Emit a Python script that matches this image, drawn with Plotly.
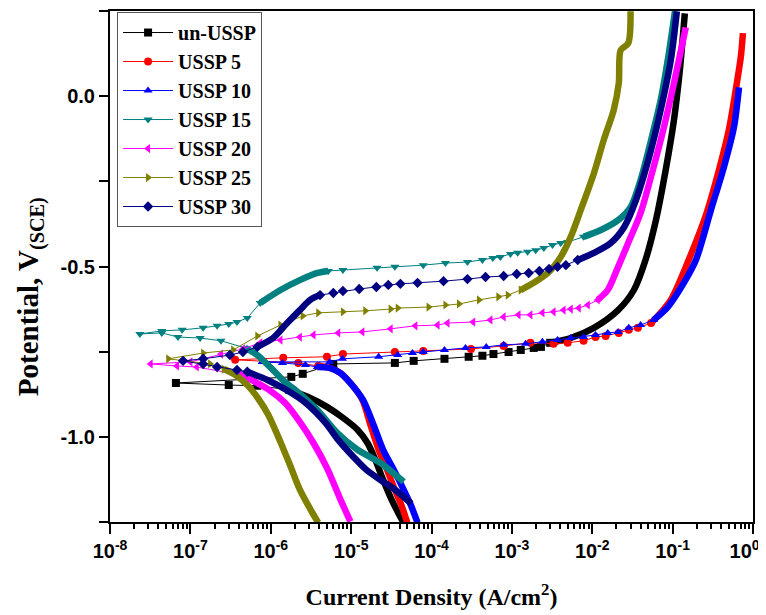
import plotly.graph_objects as go

# ---------------- data (current density A/cm^2, potential V vs SCE) ----------------
SERIES = ["un-USSP", "USSP 5", "USSP 10", "USSP 15", "USSP 20", "USSP 25", "USSP 30"]

UN_I = [4.5e-5, 4.1e-5, 3.2e-5, 2.5e-5, 2.0e-5, 1.6e-5, 1.2e-5, 7.9e-6, 5.0e-6, 3.1e-6, 1.7e-6,
        6.8e-7, 3.0e-7, 6.6e-8, 1.8e-6, 2.5e-6, 6.0e-6, 3.5e-5, 6.0e-5, 1.45e-4, 2.9e-4, 4.3e-4,
        5.9e-4, 9.1e-4, 1.29e-3, 1.87e-3, 2.3e-3, 3.0e-3, 5.4e-3, 1.05e-2, 2.1e-2, 3.3e-2, 4.6e-2,
        6.2e-2, 8.2e-2, 0.104, 0.123, 0.142]
UN_E = [-1.252, -1.235, -1.185, -1.126, -1.067, -1.018, -0.979, -0.944, -0.912, -0.886, -0.862,
        -0.850, -0.848, -0.842, -0.824, -0.815, -0.786, -0.783, -0.777, -0.771, -0.765, -0.762,
        -0.757, -0.751, -0.745, -0.739, -0.736, -0.724, -0.710, -0.680, -0.628, -0.569, -0.481,
        -0.364, -0.217, -0.070, 0.076, 0.243]

S5_I = [5.0e-5, 4.2e-5, 3.5e-5, 2.8e-5, 2.2e-5, 1.74e-5, 1.38e-5, 9.8e-6, 7.3e-6, 5.5e-6, 3.9e-6,
        2.2e-6, 3.6e-7, 1.43e-6, 5.0e-6, 7.9e-6, 3.5e-5, 7.9e-5, 3.1e-4, 7.9e-4, 1.7e-3, 3.3e-3,
        4.95e-3, 7.8e-3, 1.1e-2, 1.47e-2, 2.14e-2, 2.85e-2, 3.7e-2, 5.4e-2, 9.5e-2, 0.168, 0.26,
        0.377, 0.50, 0.61, 0.71, 0.75]
S5_E = [-1.252, -1.199, -1.155, -1.097, -1.038, -0.965, -0.891, -0.842, -0.812, -0.798, -0.792,
        -0.783, -0.774, -0.768, -0.765, -0.757, -0.751, -0.748, -0.742, -0.733, -0.724, -0.727,
        -0.724, -0.718, -0.707, -0.704, -0.695, -0.686, -0.680, -0.666, -0.598, -0.466, -0.349,
        -0.217, -0.100, 0.018, 0.120, 0.185]

S10_I = [6.7e-5, 5.5e-5, 4.5e-5, 3.4e-5, 2.5e-5, 1.9e-5, 1.4e-5, 9.8e-6, 7.3e-6, 5.5e-6, 3.8e-6,
         2.7e-6, 1.4e-6, 7.8e-7, 5.4e-6, 7.8e-6, 2.2e-5, 3.8e-5, 5.8e-5, 7.9e-5, 1.45e-4, 2.65e-4,
         4.8e-4, 7.9e-4, 1.48e-3, 2.4e-3, 3.7e-3, 5.4e-3, 7.8e-3, 1.1e-2, 1.56e-2, 2.1e-2, 2.85e-2,
         4.0e-2, 5.8e-2, 8.7e-2, 0.138, 0.195, 0.30, 0.435, 0.58, 0.67]
S10_E = [-1.252, -1.199, -1.155, -1.097, -1.038, -0.965, -0.891, -0.842, -0.812, -0.798, -0.795,
         -0.789, -0.783, -0.780, -0.780, -0.771, -0.765, -0.760, -0.754, -0.751, -0.745, -0.739,
         -0.736, -0.730, -0.727, -0.721, -0.716, -0.710, -0.707, -0.701, -0.695, -0.692, -0.680,
         -0.672, -0.657, -0.619, -0.548, -0.481, -0.334, -0.208, -0.091, 0.026]

S15_I = [4.5e-5, 2.3e-5, 1.2e-5, 6.7e-6, 3.8e-6, 2.0e-6, 1.5e-6, 1.07e-6, 6.8e-7, 4.8e-7,
         2.4e-7, 1.32e-7, 7.0e-8, 4.4e-8, 2.35e-8, 4.4e-8, 7.9e-8, 1.44e-7, 2.15e-7, 3.0e-7, 3.8e-7,
         5.1e-7, 7.4e-7, 1.32e-6, 2.3e-6, 3.8e-6, 5.2e-6, 7.9e-6, 2.1e-5, 3.5e-5, 7.9e-5, 1.49e-4,
         2.8e-4, 4.3e-4, 5.8e-4, 7.2e-4, 9.6e-4, 1.18e-3, 1.57e-3, 1.98e-3, 2.5e-3, 3.2e-3, 4.05e-3,
         4.95e-3, 7.8e-3, 1.28e-2, 2.1e-2, 3.0e-2, 4.0e-2, 5.4e-2, 7.1e-2, 8.9e-2, 0.107]
S15_E = [-1.132, -1.076, -1.038, -0.988, -0.921, -0.862, -0.839, -0.804, -0.760, -0.739,
         -0.718, -0.710, -0.707, -0.695, -0.698, -0.689, -0.686, -0.680, -0.674, -0.669, -0.663,
         -0.651, -0.607, -0.569, -0.540, -0.519, -0.513, -0.510, -0.504, -0.501, -0.496, -0.490,
         -0.487, -0.481, -0.475, -0.472, -0.463, -0.460, -0.457, -0.452, -0.446, -0.437, -0.431,
         -0.428, -0.413, -0.393, -0.364, -0.326, -0.246, -0.129, -0.012, 0.120, 0.249]

S20_I = [9.8e-6, 7.4e-6, 5.0e-6, 3.4e-6, 2.3e-6, 1.5e-6, 9.9e-7, 6.4e-7, 4.2e-7,
         1.2e-7, 6.8e-8, 3.2e-8, 1.0e-7, 2.4e-7, 4.5e-7, 7.4e-7, 1.32e-6, 2.3e-6, 3.4e-6, 6.9e-6,
         1.38e-5, 3.1e-5, 6.3e-5, 1.19e-4, 1.58e-4, 3.3e-4, 5.4e-4, 7.9e-4, 1.21e-3, 1.7e-3, 2.4e-3,
         3.3e-3, 4.4e-3, 5.4e-3, 6.8e-3, 8.8e-3, 1.17e-2, 1.56e-2, 2.1e-2, 2.8e-2, 4.0e-2, 5.8e-2,
         7.8e-2, 0.104, 0.146]
S20_E = [-1.249, -1.185, -1.091, -1.018, -0.956, -0.900, -0.865, -0.839, -0.818,
         -0.795, -0.792, -0.786, -0.780, -0.757, -0.742, -0.724, -0.716, -0.707, -0.701, -0.695,
         -0.692, -0.683, -0.674, -0.672, -0.666, -0.663, -0.657, -0.648, -0.642, -0.642, -0.636,
         -0.633, -0.628, -0.625, -0.622, -0.613, -0.598, -0.569, -0.501, -0.431, -0.343, -0.208,
         -0.091, 0.038, 0.202]

S25_I = [3.9e-6, 3.1e-6, 2.3e-6, 1.75e-6, 1.32e-6, 9.3e-7, 6.9e-7, 5.1e-7, 3.6e-7, 2.6e-7,
         1.76e-7, 5.3e-8, 1.44e-7, 3.4e-7, 6.8e-7, 1.32e-6, 2.5e-6, 3.9e-6, 7.9e-6, 1.5e-5, 3.1e-5,
         3.8e-5, 9.2e-5, 1.49e-4, 2.2e-4, 3.9e-4, 6.8e-4, 8.9e-4, 1.29e-3, 1.87e-3, 2.8e-3, 4.05e-3,
         5.4e-3, 7.2e-3, 1.05e-2, 1.39e-2, 1.85e-2, 2.14e-2, 2.26e-2, 2.8e-2, 3.0e-2]
S25_E = [-1.252, -1.212, -1.155, -1.085, -1.015, -0.935, -0.886, -0.848, -0.818, -0.801,
         -0.786, -0.771, -0.754, -0.745, -0.704, -0.672, -0.645, -0.636, -0.633, -0.630, -0.625,
         -0.622, -0.619, -0.613, -0.610, -0.598, -0.589, -0.584, -0.569, -0.548, -0.519, -0.472,
         -0.413, -0.334, -0.226, -0.129, -0.041, 0.038, 0.135, 0.155, 0.249]

S30_I = [5.6e-5, 3.5e-5, 2.3e-5, 1.55e-5, 1.07e-5, 6.9e-6, 4.8e-6, 2.7e-6, 1.55e-6, 9.1e-7, 5.1e-7,
         3.8e-7, 2.15e-7, 1.44e-7, 8.1e-8, 1.44e-7, 3.1e-7, 4.5e-7, 6.8e-7, 1.07e-6, 1.6e-6, 2.3e-6,
         3.1e-6, 4.1e-6, 6.0e-6, 7.9e-6, 1.26e-5, 2.06e-5, 2.9e-5, 4.1e-5, 6.7e-5, 1.41e-4, 2.8e-4,
         4.7e-4, 7.9e-4, 1.15e-3, 1.62e-3, 2.2e-3, 2.9e-3, 3.7e-3, 4.7e-3, 6.6e-3, 1.05e-2, 1.7e-2,
         2.5e-2, 3.5e-2, 5.1e-2, 7.1e-2, 9.5e-2, 0.113]
S30_E = [-1.196, -1.155, -1.126, -1.097, -1.059, -1.009, -0.959, -0.900, -0.862, -0.833, -0.809,
         -0.804, -0.795, -0.786, -0.777, -0.771, -0.760, -0.751, -0.736, -0.710, -0.666, -0.628,
         -0.598, -0.584, -0.578, -0.572, -0.566, -0.560, -0.554, -0.551, -0.548, -0.543, -0.537,
         -0.531, -0.528, -0.522, -0.519, -0.513, -0.507, -0.501, -0.496, -0.481, -0.460, -0.431,
         -0.384, -0.305, -0.179, -0.041, 0.106, 0.249]

# index ranges (inclusive) where the recorded points are so dense that they merge into a band
BANDS = {
    "un-USSP": [(0, 10), (27, 37)],
    "USSP 5": [(0, 10), (29, 37)],
    "USSP 10": [(0, 10), (34, 41)],
    "USSP 15": [(0, 9), (22, 26), (44, 52)],
    "USSP 20": [(0, 8), (36, 44)],
    "USSP 25": [(0, 9), (28, 40)],
    "USSP 30": [(0, 10), (18, 23), (41, 49)],
}

DATA = {
    "un-USSP": (UN_I, UN_E), "USSP 5": (S5_I, S5_E), "USSP 10": (S10_I, S10_E),
    "USSP 15": (S15_I, S15_E), "USSP 20": (S20_I, S20_E), "USSP 25": (S25_I, S25_E),
    "USSP 30": (S30_I, S30_E),
}

COLORS = ["#000000", "#FF0000", "#0000FF", "#008080", "#FF00FF", "#808000", "#000080"]
SYMBOLS = ["square", "circle", "triangle-up", "triangle-down", "triangle-left",
           "triangle-right", "diamond"]

X_TICKS = [1e-8, 1e-7, 1e-6, 1e-5, 1e-4, 1e-3, 1e-2, 1e-1, 1]
X_TICKTEXT = ["10<sup>-8</sup>", "10<sup>-7</sup>", "10<sup>-6</sup>", "10<sup>-5</sup>",
              "10<sup>-4</sup>", "10<sup>-3</sup>", "10<sup>-2</sup>", "10<sup>-1</sup>",
              "10<sup>0</sup>\u00a0\u00a0\u00a0"]
X_MINOR = [m * d for d in [1e-8, 1e-7, 1e-6, 1e-5, 1e-4, 1e-3, 1e-2, 1e-1] for m in range(2, 10)]
Y_TICKS = [-1.0, -0.5, 0.0]
Y_TICKTEXT = ["-1.0", "-0.5", "0.0"]


def band_xy(I, E, bands):
    xs, ys = [], []
    for a, b in bands:
        xs += I[a:b + 1] + [None]
        ys += E[a:b + 1] + [None]
    return xs, ys


def sparse_xy(I, E, bands):
    n = len(I)
    inband = [False] * n
    for a, b in bands:
        for k in range(a, b + 1):
            inband[k] = True
    xs, ys = [], []
    k = 0
    while k < n:
        if not inband[k]:
            s = k
            while k < n and not inband[k]:
                k += 1
            lo, hi = max(s - 1, 0), min(k, n - 1)
            xs += I[lo:hi + 1] + [None]
            ys += E[lo:hi + 1] + [None]
        else:
            k += 1
    return xs, ys


fig = go.Figure()
for name, col, sym in zip(SERIES, COLORS, SYMBOLS):
    I, E = DATA[name]
    bx, by = band_xy(I, E, BANDS[name])
    fig.add_trace(go.Scatter(x=bx, y=by, mode="lines",
                             line=dict(color=col, width=6.5, shape="spline", smoothing=0.8),
                             legendgroup=name, showlegend=False, hoverinfo="skip"))
    sx, sy = sparse_xy(I, E, BANDS[name])
    fig.add_trace(go.Scatter(x=sx, y=sy, mode="lines+markers", name=name, legendgroup=name,
                             line=dict(color=col, width=1),
                             marker=dict(symbol=sym, size=8, color=col)))

TICKFONT = dict(family="Liberation Sans, Arial, sans-serif", size=20, color="black", weight="bold")
XTITLEFONT = dict(family="Liberation Serif, Times New Roman, serif", size=24, color="black",
                  weight="bold")
YTITLEFONT = dict(family="Liberation Serif, Times New Roman, serif", size=29, color="black",
                  weight="bold")

fig.update_xaxes(type="log", range=[-8.0005, 0.0005], tickmode="array", tickvals=X_TICKS,
                 ticktext=X_TICKTEXT, ticks="outside", ticklen=10, tickwidth=2,
                 tickcolor="black", showline=True, linewidth=2, linecolor="black",
                 mirror=True, showgrid=False, zeroline=False, tickfont=TICKFONT,
                 automargin=False, ticklabeloverflow="allow",
                 minor=dict(tickmode="array", tickvals=X_MINOR, ticks="outside", ticklen=5,
                            tickwidth=2, tickcolor="black", showgrid=False),
                 title=dict(text="Current Density (A/cm<sup>2</sup>)", font=XTITLEFONT,
                            standoff=27))
fig.update_yaxes(range=[-1.25, 0.25], tickmode="array", tickvals=Y_TICKS,
                 ticktext=Y_TICKTEXT, ticks="outside", ticklen=9, tickwidth=2,
                 tickcolor="black", showline=True, linewidth=2, linecolor="black",
                 mirror=True, showgrid=False, zeroline=False, tickfont=TICKFONT,
                 automargin=False,
                 minor=dict(tickmode="linear", tick0=0, dtick=0.25, ticks="outside",
                            ticklen=9, tickwidth=2, tickcolor="black", showgrid=False))

# y-axis title (placed slightly below the axis centre, as in the original)
fig.add_annotation(text="Potential, V<sub>(SCE)</sub>", xref="paper", yref="paper",
                   x=-0.1244, y=0.44, textangle=-90, showarrow=False,
                   xanchor="center", yanchor="middle", font=YTITLEFONT)

# the page adds an 8 px body margin, so the figure is shifted by that amount
fig.update_layout(
    width=766, height=615,
    margin=dict(l=102, r=21, t=3, b=101),
    paper_bgcolor="white", plot_bgcolor="white",
    showlegend=True,
    legend=dict(x=0.011, y=0.998, xanchor="left", yanchor="top",
                bgcolor="white", bordercolor="#555555", borderwidth=1,
                font=dict(family="Liberation Serif, Times New Roman, serif", size=20,
                          color="black", weight="bold"),
                tracegroupgap=0, itemwidth=50),
)

fig.write_html("out.html")
